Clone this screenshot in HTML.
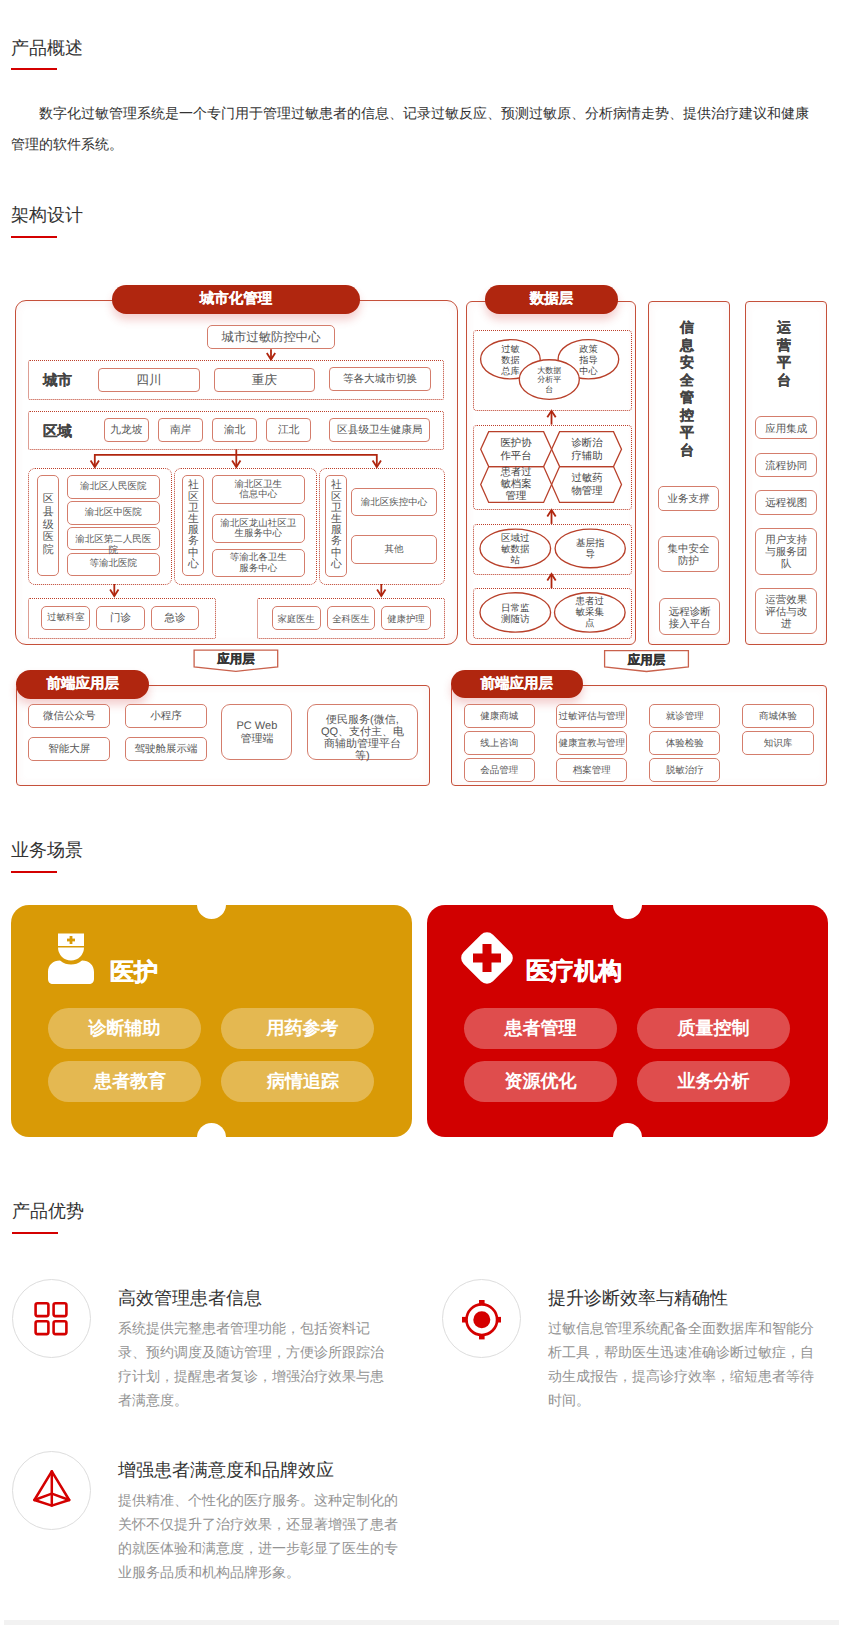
<!DOCTYPE html>
<html><head><meta charset="utf-8"><style>
*{margin:0;padding:0;box-sizing:border-box}
html,body{width:850px;height:1625px;background:#fff;overflow:hidden}
body{position:relative;font-family:"Liberation Sans",sans-serif;color:#333;text-rendering:geometricPrecision}
.h{position:absolute;left:11px;font-size:18px;line-height:24px;color:#333;white-space:nowrap}
.ul{position:absolute;left:11px;width:46px;height:2px;background:#D40000}
.b{position:absolute;border:1.6px solid #D47D6C;padding-top:2px;background:#fff;display:flex;align-items:center;justify-content:center;text-align:center;color:#555;white-space:normal;word-break:break-all}
.d{position:absolute;border:1px dotted #BD3F2A}
.o{position:absolute;border:1.4px solid #C5503A;box-shadow:inset 0 0 10px rgba(215,90,90,.07)}
.p{position:absolute;background:#B0260F;color:#fff;font-weight:bold;-webkit-text-stroke:0.15px #fff;padding-top:1.4px;display:flex;align-items:center;justify-content:center;box-shadow:0 6px 9px rgba(210,60,60,.24);white-space:nowrap}
.t{position:absolute;white-space:nowrap}
.card{position:absolute;top:905px;width:401px;height:232px;border-radius:18px;overflow:hidden}
.notch{position:absolute;width:29px;height:29px;border-radius:50%;background:#fff}
.pl{position:absolute;width:153px;height:41px;border-radius:21px;background:rgba(255,255,255,.3);color:#fff;font-weight:bold;font-size:18px;display:flex;align-items:center;justify-content:center}
.ct{position:absolute;color:#fff;font-weight:bold;-webkit-text-stroke:0.5px #fff;font-size:24px;line-height:30px;white-space:nowrap}
.ic{position:absolute;width:79px;height:79px;border-radius:50%;border:1px solid #ddd}
.ft{position:absolute;font-size:18px;line-height:24px;color:#333;white-space:nowrap}
.fd{position:absolute;font-size:14px;line-height:24px;color:#939393}
</style></head><body>
<div class="h" style="top:36px">产品概述</div><div class="ul" style="top:68px"></div>
<div style="position:absolute;left:11px;top:98.3px;width:806px;font-size:14px;line-height:30.5px;text-indent:28px;color:#333">数字化过敏管理系统是一个专门用于管理过敏患者的信息、记录过敏反应、预测过敏原、分析病情走势、提供治疗建议和健康管理的软件系统。</div>
<div class="h" style="top:203px">架构设计</div><div class="ul" style="top:236px"></div>
<div class="o" style="left:14.5px;top:300px;width:443.0px;height:345.0px;border-radius:11px"></div>
<div class="o" style="left:466.2px;top:300.5px;width:169.4px;height:344.7px;border-radius:6px"></div>
<div class="o" style="left:647.8px;top:300.5px;width:82.1px;height:344.2px;border-radius:4px"></div>
<div class="o" style="left:745.4px;top:300.5px;width:82.1px;height:344.2px;border-radius:4px"></div>
<div class="o" style="left:16.2px;top:685.3px;width:413.8px;height:101.2px;border-radius:4px"></div>
<div class="o" style="left:450.7px;top:685.3px;width:376.3px;height:100.9px;border-radius:4px"></div>
<div class="p" style="left:112px;top:285px;width:248.0px;height:28.5px;border-radius:14.2px;font-size:14.5px">城市化管理</div>
<div class="p" style="left:484.7px;top:285px;width:133.5px;height:28.5px;border-radius:14.2px;font-size:14.5px">数据层</div>
<div class="p" style="left:16.3px;top:669.7px;width:132.7px;height:29.0px;border-radius:14.5px;font-size:14.5px">前端应用层</div>
<div class="p" style="left:450.7px;top:669.7px;width:132.2px;height:28.6px;border-radius:14.3px;font-size:14.5px">前端应用层</div>
<div class="b" style="left:207.4px;top:325px;width:127.4px;height:24.3px;border-radius:5px;font-size:12.4px;line-height:13.640000000000002px;">城市过敏防控中心</div>
<div class="d" style="left:28px;top:360px;width:416px;height:40px;border-radius:2px"></div>
<div class="t" style="left:43px;top:371px;font-size:14.5px;font-weight:bold;color:#444;line-height:20px;-webkit-text-stroke:0.15px #444">城市</div>
<div class="b" style="left:98.2px;top:367.6px;width:101.4px;height:24.3px;border-radius:4px;font-size:12.6px;line-height:13.860000000000001px;">四川</div>
<div class="b" style="left:214px;top:367.8px;width:100.8px;height:23.9px;border-radius:4px;font-size:12.6px;line-height:13.860000000000001px;">重庆</div>
<div class="b" style="left:329.2px;top:367.1px;width:101.6px;height:24.4px;border-radius:4px;font-size:10.6px;line-height:11.66px;">等各大城市切换</div>
<div class="d" style="left:28px;top:411px;width:416px;height:39px;border-radius:2px"></div>
<div class="t" style="left:43px;top:421.5px;font-size:14.5px;font-weight:bold;color:#444;line-height:20px;-webkit-text-stroke:0.15px #444">区域</div>
<div class="b" style="left:104px;top:418.2px;width:44.8px;height:23.6px;border-radius:4px;font-size:10.7px;line-height:11.77px;">九龙坡</div>
<div class="b" style="left:158.2px;top:418.2px;width:44.8px;height:23.6px;border-radius:4px;font-size:10.7px;line-height:11.77px;">南岸</div>
<div class="b" style="left:212.2px;top:418.2px;width:45.1px;height:23.6px;border-radius:4px;font-size:10.7px;line-height:11.77px;">渝北</div>
<div class="b" style="left:266.2px;top:418.2px;width:45.1px;height:23.6px;border-radius:4px;font-size:10.7px;line-height:11.77px;">江北</div>
<div class="b" style="left:329.1px;top:418.2px;width:101.4px;height:23.6px;border-radius:4px;font-size:10.7px;line-height:11.77px;">区县级卫生健康局</div>
<div class="d" style="left:28px;top:468px;width:144px;height:117px;border-radius:7px"></div>
<div class="b" style="left:37.3px;top:475px;width:21.9px;height:101.3px;border-radius:5px;font-size:11px;line-height:12.7px;padding-top:0;padding-bottom:1.4px">区<br>县<br>级<br>医<br>院</div>
<div class="b" style="left:66.7px;top:475px;width:93.0px;height:23.6px;border-radius:5px;font-size:9.5px;line-height:10.5px;padding:0 4px;align-items:center">渝北区人民医院</div>
<div class="b" style="left:66.7px;top:501.4px;width:93.0px;height:23.2px;border-radius:5px;font-size:9.5px;line-height:10.5px;padding:0 4px;align-items:center">渝北区中医院</div>
<div class="b" style="left:66.7px;top:527.2px;width:93.0px;height:23.2px;border-radius:5px;font-size:9.5px;line-height:10.5px;padding:0 4px;align-items:center"></div>
<div class="b" style="left:66.7px;top:553.2px;width:93.0px;height:23.1px;border-radius:5px;font-size:9.5px;line-height:10.5px;padding:0 4px;align-items:center">等渝北医院</div>
<div class="t" style="left:73.2px;top:535px;width:80px;text-align:center;font-size:9.5px;line-height:10.5px;color:#555;white-space:normal">渝北区第二人民医院</div>
<div class="d" style="left:174px;top:468px;width:143px;height:117px;border-radius:7px"></div>
<div class="b" style="left:182.3px;top:475px;width:22.2px;height:101.3px;border-radius:5px;font-size:10.8px;line-height:11.2px;padding-top:0;padding-bottom:1px">社<br>区<br>卫<br>生<br>服<br>务<br>中<br>心</div>
<div class="b" style="left:212px;top:475px;width:92.7px;height:28.7px;border-radius:5px;font-size:9.5px;line-height:10.3px;">渝北区卫生<br>信息中心</div>
<div class="b" style="left:212px;top:513.6px;width:92.7px;height:29.2px;border-radius:5px;font-size:9.5px;line-height:10.3px;">渝北区龙山社区卫<br>生服务中心</div>
<div class="b" style="left:212px;top:548.5px;width:92.7px;height:28.2px;border-radius:5px;font-size:9.5px;line-height:10.3px;">等渝北各卫生<br>服务中心</div>
<div class="d" style="left:319px;top:468px;width:126px;height:117px;border-radius:7px"></div>
<div class="b" style="left:325.3px;top:474.7px;width:22.1px;height:102.0px;border-radius:5px;font-size:10.8px;line-height:11.2px;padding-top:0;padding-bottom:1px">社<br>区<br>卫<br>生<br>服<br>务<br>中<br>心</div>
<div class="b" style="left:351.1px;top:487.9px;width:85.7px;height:28.6px;border-radius:5px;font-size:9.5px;line-height:10.450000000000001px;">渝北区疾控中心</div>
<div class="b" style="left:351.1px;top:535.3px;width:85.7px;height:28.6px;border-radius:5px;font-size:9.5px;line-height:10.450000000000001px;">其他</div>
<div class="d" style="left:28px;top:598px;width:188px;height:41px;border-radius:2px"></div>
<div class="b" style="left:41.2px;top:606.2px;width:49.2px;height:23.8px;border-radius:5px;font-size:9.4px;line-height:10.340000000000002px;padding-top:0;padding-bottom:1px">过敏科室</div>
<div class="b" style="left:96.3px;top:606.2px;width:48.4px;height:23.8px;border-radius:5px;font-size:10.5px;line-height:11.55px;">门诊</div>
<div class="b" style="left:150.7px;top:606.2px;width:48.6px;height:23.8px;border-radius:5px;font-size:10.5px;line-height:11.55px;">急诊</div>
<div class="d" style="left:257px;top:598px;width:188px;height:41px;border-radius:2px"></div>
<div class="b" style="left:271.9px;top:606px;width:48.7px;height:24.0px;border-radius:5px;font-size:9.4px;line-height:10.340000000000002px;">家庭医生</div>
<div class="b" style="left:326.6px;top:606px;width:48.7px;height:24.0px;border-radius:5px;font-size:9.4px;line-height:10.340000000000002px;">全科医生</div>
<div class="b" style="left:381.2px;top:606px;width:49.5px;height:24.0px;border-radius:5px;font-size:9.4px;line-height:10.340000000000002px;">健康护理</div>
<div class="d" style="left:473px;top:330px;width:159px;height:81px;border-radius:4px"></div>
<div class="d" style="left:473px;top:425px;width:159px;height:85px;border-radius:4px"></div>
<div class="d" style="left:473px;top:524px;width:159px;height:51px;border-radius:4px"></div>
<div class="d" style="left:473px;top:588px;width:159px;height:51px;border-radius:4px"></div>
<div class="t" style="left:680px;top:319px;font-size:14px;line-height:17.55px;font-weight:bold;color:#444;white-space:normal;width:14px;-webkit-text-stroke:0.3px #444">信息安全管控平台</div>
<div class="b" style="left:657.6px;top:486.4px;width:61.9px;height:24.2px;border-radius:5px;font-size:10.5px;line-height:11.55px;">业务支撑</div>
<div class="b" style="left:657.6px;top:535.8px;width:61.9px;height:36.7px;border-radius:6px;font-size:10.5px;line-height:12px;">集中安全<br>防护</div>
<div class="b" style="left:658.8px;top:598.4px;width:61.7px;height:36.9px;border-radius:6px;font-size:10.5px;line-height:12px;">远程诊断<br>接入平台</div>
<div class="t" style="left:777px;top:319px;font-size:14px;line-height:17.55px;font-weight:bold;color:#444;white-space:normal;width:14px;-webkit-text-stroke:0.3px #444">运营平台</div>
<div class="b" style="left:755.3px;top:415.9px;width:61.7px;height:23.5px;border-radius:6px;font-size:10.5px;line-height:12px;">应用集成</div>
<div class="b" style="left:755.3px;top:452.8px;width:61.7px;height:24.2px;border-radius:6px;font-size:10.5px;line-height:12px;">流程协同</div>
<div class="b" style="left:755.3px;top:490.1px;width:61.7px;height:24.5px;border-radius:6px;font-size:10.5px;line-height:12px;">远程视图</div>
<div class="b" style="left:755.3px;top:528.2px;width:61.7px;height:46.4px;border-radius:6px;font-size:10.5px;line-height:12px;">用户支持<br>与服务团<br>队</div>
<div class="b" style="left:755.3px;top:587.5px;width:61.7px;height:46.6px;border-radius:6px;font-size:10.5px;line-height:12px;">运营效果<br>评估与改<br>进</div>
<div class="b" style="left:28.2px;top:703.8px;width:81.9px;height:24.0px;border-radius:5px;font-size:10.5px;line-height:11.55px;">微信公众号</div>
<div class="b" style="left:125.1px;top:703.8px;width:81.9px;height:24.0px;border-radius:5px;font-size:10.5px;line-height:11.55px;">小程序</div>
<div class="b" style="left:28.2px;top:736.8px;width:81.9px;height:24.0px;border-radius:5px;font-size:10.5px;line-height:11.55px;">智能大屏</div>
<div class="b" style="left:125.1px;top:736.8px;width:81.9px;height:24.0px;border-radius:5px;font-size:10.5px;line-height:11.55px;">驾驶舱展示端</div>
<div class="b" style="left:221.4px;top:703.9px;width:71.0px;height:56.2px;border-radius:9px;font-size:11px;line-height:13px;">PC Web<br>管理端</div>
<div class="b" style="left:307.1px;top:703.9px;width:110.7px;height:56.2px;border-radius:9px;font-size:11px;line-height:12px;"><span style="position:relative;top:5px">便民服务(微信,<br>QQ、支付主、电<br>商辅助管理平台<br>等)</span></div>
<div class="b" style="left:463.9px;top:703.8px;width:70.9px;height:24.0px;border-radius:5px;font-size:9.5px;line-height:10.450000000000001px;white-space:nowrap">健康商城</div>
<div class="b" style="left:556.2px;top:703.8px;width:71.3px;height:24.0px;border-radius:5px;font-size:9.5px;line-height:10.450000000000001px;white-space:nowrap">过敏评估与管理</div>
<div class="b" style="left:649.2px;top:703.8px;width:71.2px;height:24.0px;border-radius:5px;font-size:9.5px;line-height:10.450000000000001px;white-space:nowrap">就诊管理</div>
<div class="b" style="left:742.2px;top:703.8px;width:71.4px;height:24.0px;border-radius:5px;font-size:9.5px;line-height:10.450000000000001px;white-space:nowrap">商城体验</div>
<div class="b" style="left:463.9px;top:731px;width:70.9px;height:23.8px;border-radius:5px;font-size:9.5px;line-height:10.450000000000001px;white-space:nowrap">线上咨询</div>
<div class="b" style="left:556.2px;top:731px;width:71.3px;height:23.8px;border-radius:5px;font-size:9.5px;line-height:10.450000000000001px;white-space:nowrap">健康宣教与管理</div>
<div class="b" style="left:649.2px;top:731px;width:71.2px;height:23.8px;border-radius:5px;font-size:9.5px;line-height:10.450000000000001px;white-space:nowrap">体验检验</div>
<div class="b" style="left:742.2px;top:731px;width:71.4px;height:23.8px;border-radius:5px;font-size:9.5px;line-height:10.450000000000001px;white-space:nowrap">知识库</div>
<div class="b" style="left:463.9px;top:758.4px;width:70.9px;height:23.8px;border-radius:5px;font-size:9.5px;line-height:10.450000000000001px;white-space:nowrap">会品管理</div>
<div class="b" style="left:556.2px;top:758.4px;width:71.3px;height:23.8px;border-radius:5px;font-size:9.5px;line-height:10.450000000000001px;white-space:nowrap">档案管理</div>
<div class="b" style="left:649.2px;top:758.4px;width:71.2px;height:23.8px;border-radius:5px;font-size:9.5px;line-height:10.450000000000001px;white-space:nowrap">脱敏治疗</div>
<svg style="position:absolute;left:0;top:0" width="850" height="820"><line x1="271" y1="349.3" x2="271" y2="359.0" stroke="#B0260F" stroke-width="1.8"/><polyline points="266.8,353.0 271,359.5 275.2,353.0" fill="none" stroke="#B0260F" stroke-width="1.8"/><polyline points="94.8,467 94.8,454.8 376.8,454.8 376.8,467" fill="none" stroke="#B0260F" stroke-width="1.8"/><line x1="236.3" y1="449.3" x2="236.3" y2="467" stroke="#B0260F" stroke-width="1.8"/><polyline points="90.6,460.5 94.8,467 99.0,460.5" fill="none" stroke="#B0260F" stroke-width="1.8"/><polyline points="232.10000000000002,460.5 236.3,467 240.5,460.5" fill="none" stroke="#B0260F" stroke-width="1.8"/><polyline points="372.6,460.5 376.8,467 381.0,460.5" fill="none" stroke="#B0260F" stroke-width="1.8"/><line x1="114.3" y1="584" x2="114.3" y2="595.5" stroke="#B0260F" stroke-width="1.8"/><polyline points="110.1,589.5 114.3,596 118.5,589.5" fill="none" stroke="#B0260F" stroke-width="1.8"/><line x1="381.3" y1="584" x2="381.3" y2="595.5" stroke="#B0260F" stroke-width="1.8"/><polyline points="377.1,589.5 381.3,596 385.5,589.5" fill="none" stroke="#B0260F" stroke-width="1.8"/><line x1="551.5" y1="424.6" x2="551.5" y2="411.3" stroke="#B0260F" stroke-width="1.8"/><polyline points="547.3,417.3 551.5,410.8 555.7,417.3" fill="none" stroke="#B0260F" stroke-width="1.8"/><line x1="551.5" y1="523.9" x2="551.5" y2="510.5" stroke="#B0260F" stroke-width="1.8"/><polyline points="547.3,516.5 551.5,510 555.7,516.5" fill="none" stroke="#B0260F" stroke-width="1.8"/><line x1="551.5" y1="588.2" x2="551.5" y2="574.5" stroke="#B0260F" stroke-width="1.8"/><polyline points="547.3,580.5 551.5,574 555.7,580.5" fill="none" stroke="#B0260F" stroke-width="1.8"/><ellipse cx="510.4" cy="359.3" rx="29.8" ry="19.6" fill="#fff" stroke="#B8402A" stroke-width="1.35"/><ellipse cx="588.4" cy="359.3" rx="30.3" ry="19.6" fill="#fff" stroke="#B8402A" stroke-width="1.35"/><ellipse cx="549.3" cy="379.5" rx="30" ry="19.8" fill="#fff" stroke="#B8402A" stroke-width="1.35"/><ellipse cx="515.3" cy="548.4" rx="35.3" ry="19.3" fill="#fff" stroke="#B8402A" stroke-width="1.35"/><ellipse cx="590.2" cy="548.4" rx="35.1" ry="19.3" fill="#fff" stroke="#B8402A" stroke-width="1.35"/><ellipse cx="515.3" cy="612.4" rx="35.3" ry="19.7" fill="#fff" stroke="#B8402A" stroke-width="1.35"/><ellipse cx="589.8" cy="612.4" rx="35.3" ry="19.7" fill="#fff" stroke="#B8402A" stroke-width="1.35"/><polygon points="480.7,449.15 488.7,431.7 543.6,431.7 551.6,449.15 543.6,466.6 488.7,466.6" fill="none" stroke="#B8402A" stroke-width="1.3"/><polygon points="551.6,449.15 559.6,431.7 613.5,431.7 621.5,449.15 613.5,466.6 559.6,466.6" fill="none" stroke="#B8402A" stroke-width="1.3"/><polygon points="480.7,484.5 488.7,466.6 543.6,466.6 551.6,484.5 543.6,502.4 488.7,502.4" fill="none" stroke="#B8402A" stroke-width="1.3"/><polygon points="551.6,484.5 559.6,466.6 613.5,466.6 621.5,484.5 613.5,502.4 559.6,502.4" fill="none" stroke="#B8402A" stroke-width="1.3"/><polygon points="194.1,650.2 277.7,650.2 277.7,666.8 235.89999999999998,671.3 194.1,666.8" fill="#fff" stroke="#C9614C" stroke-width="1.3"/><polygon points="604.6,650.7 688.4,650.7 688.4,667 646.5,671.5 604.6,667" fill="#fff" stroke="#C9614C" stroke-width="1.3"/></svg>
<div class="t" style="left:480.4px;top:343.7px;width:60px;text-align:center;font-size:9.2px;line-height:11.2px;color:#444">过敏<br>数据<br>总库</div>
<div class="t" style="left:558.4px;top:343.7px;width:60px;text-align:center;font-size:9.2px;line-height:11.2px;color:#444">政策<br>指导<br>中心</div>
<div class="t" style="left:519.3px;top:365.75px;width:60px;text-align:center;font-size:8px;line-height:9.5px;color:#444">大数据<br>分析平<br>台</div>
<div class="t" style="left:486.0px;top:437.90000000000003px;width:60px;text-align:center;font-size:10.4px;line-height:12.9px;color:#444">医护协<br>作平台</div>
<div class="t" style="left:557.0px;top:437.90000000000003px;width:60px;text-align:center;font-size:10.4px;line-height:12.9px;color:#444">诊断治<br>疗辅助</div>
<div class="t" style="left:486.0px;top:466.85px;width:60px;text-align:center;font-size:10.4px;line-height:12.1px;color:#444">患者过<br>敏档案<br>管理</div>
<div class="t" style="left:557.0px;top:473.1px;width:60px;text-align:center;font-size:10.4px;line-height:12.9px;color:#444">过敏药<br>物管理</div>
<div class="t" style="left:485.29999999999995px;top:532.5px;width:60px;text-align:center;font-size:9.5px;line-height:11px;color:#444">区域过<br>敏数据<br>站</div>
<div class="t" style="left:560.2px;top:538.0px;width:60px;text-align:center;font-size:9.5px;line-height:11px;color:#444">基层指<br>导</div>
<div class="t" style="left:485.29999999999995px;top:602.5px;width:60px;text-align:center;font-size:9.5px;line-height:11.8px;color:#444">日常监<br>测随访</div>
<div class="t" style="left:559.8px;top:595.9px;width:60px;text-align:center;font-size:9.5px;line-height:11px;color:#444">患者过<br>敏采集<br>点</div>
<div class="t" style="left:196.0px;top:652.0px;width:80px;text-align:center;font-size:12.5px;line-height:14px;color:#333;font-weight:bold;-webkit-text-stroke:0.3px #333">应用层</div>
<div class="t" style="left:606.5px;top:652.5px;width:80px;text-align:center;font-size:12.5px;line-height:14px;color:#333;font-weight:bold;-webkit-text-stroke:0.3px #333">应用层</div>
<div class="h" style="top:838px">业务场景</div><div class="ul" style="top:871px"></div>
<div class="card" style="left:11px;background:#D99A06">
<div class="notch" style="left:186px;top:-15px"></div><div class="notch" style="left:186px;top:218px"></div>
<svg style="position:absolute;left:36px;top:26.8px" width="50" height="54" viewBox="0 0 50 54">
<rect x="11" y="1.5" width="26" height="12.5" fill="#fff"/>
<path d="M11 15.5 H37 A13 13 0 0 1 11 15.5 Z" fill="#fff"/>
<path d="M1 40 C1 33 6 28.5 13 28.5 C17 31.5 20 32.5 24 32.5 C28 32.5 31 31.5 35 28.5 C42 28.5 47 33 47 40 L47 47 C47 50 45 52 42 52 L6 52 C3 52 1 50 1 47 Z" fill="#fff"/>
<rect x="22.6" y="4" width="2.8" height="8" fill="#D99A06"/><rect x="20" y="6.6" width="8" height="2.8" fill="#D99A06"/>
</svg>
<div class="ct" style="left:99px;top:52.5px">医护</div>
<div class="pl" style="left:37px;top:103px">诊断辅助</div>
<div class="pl" style="left:210px;top:103px;padding-left:10px">用药参考</div>
<div class="pl" style="left:37px;top:156px;padding-left:11px">患者教育</div>
<div class="pl" style="left:210px;top:156px;padding-left:11px">病情追踪</div>
</div>
<div class="card" style="left:427px;background:#D10000">
<div class="notch" style="left:186px;top:-15px"></div><div class="notch" style="left:186px;top:218px"></div>
<svg style="position:absolute;left:30px;top:23px" width="60" height="60" viewBox="0 0 60 60">
<rect x="9.25" y="9.25" width="41.5" height="41.5" rx="8.5" fill="#fff" transform="rotate(45 30 30)"/>
<rect x="25.5" y="16" width="9" height="28" fill="#D10000"/><rect x="16" y="25.5" width="28" height="9" fill="#D10000"/>
</svg>
<div class="ct" style="left:99px;top:52px">医疗机构</div>
<div class="pl" style="left:37px;top:103px">患者管理</div>
<div class="pl" style="left:210px;top:103px">质量控制</div>
<div class="pl" style="left:37px;top:156px">资源优化</div>
<div class="pl" style="left:210px;top:156px">业务分析</div>
</div>
<div class="h" style="top:1199px;left:12px">产品优势</div><div class="ul" style="top:1232px;left:12px"></div>
<div class="ic" style="left:12px;top:1279px"><svg width="79" height="79" viewBox="0 0 79 79" style="position:absolute;left:-1px;top:-1px">
<g fill="none" stroke="#D40000" stroke-width="2.6">
<rect x="23.6" y="24.3" width="12.8" height="12.8" rx="1.8"/><rect x="41.6" y="24.3" width="12.8" height="12.8" rx="1.8"/>
<rect x="23.6" y="42.3" width="12.8" height="12.8" rx="1.8"/><rect x="41.6" y="42.3" width="12.8" height="12.8" rx="1.8"/></g></svg></div>
<div class="ft" style="left:118px;top:1286px">高效管理患者信息</div>
<div class="fd" style="left:118px;top:1315.5px;width:276px">系统提供完整患者管理功能，包括资料记录、预约调度及随访管理，方便诊所跟踪治疗计划，提醒患者复诊，增强治疗效果与患者满意度。</div>
<div class="ic" style="left:442px;top:1279px"><svg width="79" height="79" viewBox="0 0 79 79" style="position:absolute;left:-1px;top:-1px">
<circle cx="39.8" cy="40.7" r="15.3" fill="none" stroke="#D40000" stroke-width="2.7"/>
<circle cx="39.8" cy="40.7" r="8.5" fill="#D40000"/>
<rect x="37" y="21" width="5.6" height="5" fill="#D40000"/><rect x="37" y="55.4" width="5.6" height="5" fill="#D40000"/>
<rect x="20" y="37.9" width="5" height="5.6" fill="#D40000"/><rect x="54" y="37.9" width="5" height="5.6" fill="#D40000"/>
</svg></div>
<div class="ft" style="left:548px;top:1286px">提升诊断效率与精确性</div>
<div class="fd" style="left:548px;top:1315.5px;width:276px">过敏信息管理系统配备全面数据库和智能分析工具，帮助医生迅速准确诊断过敏症，自动生成报告，提高诊疗效率，缩短患者等待时间。</div>
<div class="ic" style="left:12px;top:1451px"><svg width="79" height="79" viewBox="0 0 79 79" style="position:absolute;left:-1px;top:-1px">
<g fill="none" stroke="#D40000" stroke-width="2.5" stroke-linejoin="round" stroke-linecap="round">
<path d="M39.8 20.3 L22.4 49 L39.8 54.6 L57.2 49 Z"/><path d="M39.8 20.3 V54.6"/><path d="M22.4 49 L39.8 42.6 L57.2 49"/></g></svg></div>
<div class="ft" style="left:118px;top:1458px">增强患者满意度和品牌效应</div>
<div class="fd" style="left:118px;top:1487.5px;width:282px">提供精准、个性化的医疗服务。这种定制化的关怀不仅提升了治疗效果，还显著增强了患者的就医体验和满意度，进一步彰显了医生的专业服务品质和机构品牌形象。</div>
<div style="position:absolute;left:4px;top:1620px;width:835px;height:5px;background:#F2F2F2"></div>
</body></html>
